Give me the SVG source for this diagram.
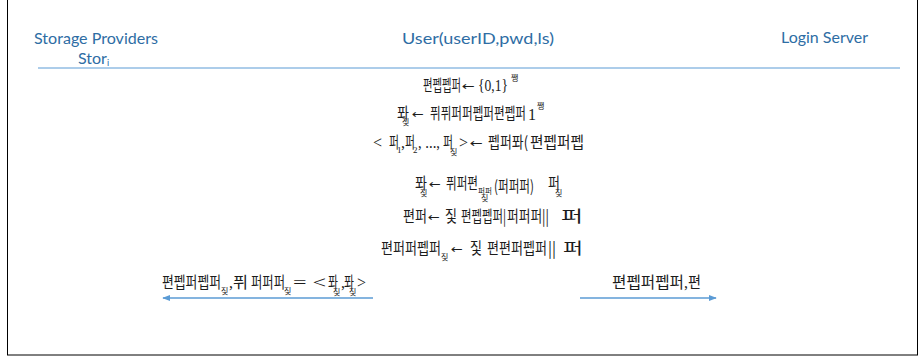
<svg xmlns="http://www.w3.org/2000/svg" width="920" height="358" viewBox="0 0 920 358">
<style>
.h{font-family:Lato,"Open Sans","Liberation Sans",sans-serif;font-size:16px;fill:#2E6DA4}
.g{font-family:"Noto Sans CJK KR","Noto Sans CJK SC",sans-serif;font-size:16px;fill:#1c1c1c}
.gs{font-family:"Noto Sans CJK KR","Noto Sans CJK SC",sans-serif;font-size:8px;fill:#1c1c1c}
.m{font-family:"Liberation Serif","DejaVu Serif",serif;font-size:16px;fill:#1c1c1c}
.ms{font-family:"Liberation Serif","DejaVu Serif",serif;font-size:9px;fill:#1c1c1c}
.a{font-family:"DejaVu Sans",sans-serif;font-size:12px;fill:#1c1c1c}
.conn{stroke:#5B9BD5;stroke-width:1.3;fill:none}
</style>
<defs>
<marker id="ah" viewBox="0 0 10 10" refX="9" refY="5" markerWidth="8" markerHeight="8" markerUnits="userSpaceOnUse" orient="auto">
<path d="M0,1 L10,5 L0,9 Z" fill="#5B9BD5"/>
</marker>
</defs>
<rect x="7.5" y="-2" width="910" height="357" fill="none" stroke="#000" stroke-width="1"/>
<line x1="38" y1="68" x2="900" y2="68" stroke="#5B9BD5" stroke-width="1"/>

<g id="storage-providers">
<text class="h" x="34" y="44" textLength="124" lengthAdjust="spacingAndGlyphs">Storage Providers</text>
<text class="h" x="78" y="64">Stor<tspan font-size="9" dy="2">i</tspan></text>
</g>

<g id="user">
<text class="h" x="478" y="44" text-anchor="middle" textLength="152" lengthAdjust="spacingAndGlyphs">User(userID,pwd,ls)</text>
<!-- line 1 -->
<text class="g" x="423" y="91" textLength="38" lengthAdjust="spacingAndGlyphs">편펩펩퍼</text>
<text class="a" x="462" y="90" textLength="13" lengthAdjust="spacingAndGlyphs">←</text>
<text class="m" x="478" y="91" textLength="30" lengthAdjust="spacingAndGlyphs">{0,1}</text>
<text class="gs" x="511" y="81">쨍</text>
<!-- line 2 -->
<text class="g" x="397" y="119" textLength="12" lengthAdjust="spacingAndGlyphs">퐈</text>
<text class="gs" x="402" y="125">짗</text>
<text class="a" x="412" y="118" textLength="12" lengthAdjust="spacingAndGlyphs">←</text>
<text class="g" x="430" y="119" textLength="96" lengthAdjust="spacingAndGlyphs">퓌퓌퍼퍼펩퍼편펩퍼</text>
<text class="m" x="528" y="120">1</text>
<text class="gs" x="537" y="109">쨍</text>
<!-- line 3 -->
<text class="m" x="373" y="148">&lt;</text>
<text class="g" x="389" y="148" textLength="10" lengthAdjust="spacingAndGlyphs">퍼</text>
<text class="ms" x="397" y="153">1</text>
<text class="m" x="401" y="148">,</text>
<text class="g" x="405" y="148" textLength="10" lengthAdjust="spacingAndGlyphs">퍼</text>
<text class="ms" x="413" y="153">2</text>
<text class="m" x="418" y="148" textLength="22" lengthAdjust="spacingAndGlyphs">, ..., </text>
<text class="g" x="443" y="148" textLength="10" lengthAdjust="spacingAndGlyphs">퍼</text>
<text class="gs" x="450" y="155">짗</text>
<text class="m" x="459" y="148">&gt;</text>
<text class="a" x="470" y="147" textLength="13" lengthAdjust="spacingAndGlyphs">←</text>
<text class="g" x="488" y="148" textLength="40" lengthAdjust="spacingAndGlyphs">펩퍼퐈(</text>
<text class="g" x="530" y="148" textLength="54" lengthAdjust="spacingAndGlyphs">편펩퍼펩</text>
<!-- line 4 -->
<text class="g" x="415" y="189" textLength="12" lengthAdjust="spacingAndGlyphs">퐈</text>
<text class="gs" x="420" y="196">짗</text>
<text class="a" x="429" y="188" textLength="12" lengthAdjust="spacingAndGlyphs">←</text>
<text class="g" x="446" y="189" textLength="32" lengthAdjust="spacingAndGlyphs">퓌퍼편</text>
<text class="gs" x="478" y="194" textLength="14" lengthAdjust="spacingAndGlyphs">퍼퍼</text>
<text class="gs" x="481" y="201">짗</text>
<text class="g" x="494" y="192" font-size="12" textLength="40" lengthAdjust="spacingAndGlyphs">(퍼퍼퍼)</text>
<text class="g" x="548" y="189" textLength="12" lengthAdjust="spacingAndGlyphs">퍼</text>
<text class="gs" x="555" y="196">짗</text>
<!-- line 5 -->
<text class="g" x="403" y="222" textLength="24" lengthAdjust="spacingAndGlyphs">편퍼</text>
<text class="a" x="428" y="221" textLength="12" lengthAdjust="spacingAndGlyphs">←</text>
<text class="g" x="445" y="222" textLength="12" lengthAdjust="spacingAndGlyphs">짗</text>
<text class="g" x="461" y="222" textLength="45" lengthAdjust="spacingAndGlyphs">편펩펩퍼|</text>
<text class="g" x="507" y="222" textLength="42" lengthAdjust="spacingAndGlyphs">퍼퍼퍼||</text>
<text class="g" x="561" y="222" textLength="22" lengthAdjust="spacingAndGlyphs">퍼</text>
<!-- line 6 -->
<text class="g" x="381" y="254" textLength="60" lengthAdjust="spacingAndGlyphs">편퍼퍼펩퍼</text>
<text class="gs" x="441" y="260">짗</text>
<text class="a" x="451" y="253" textLength="12" lengthAdjust="spacingAndGlyphs">←</text>
<text class="g" x="470" y="254" textLength="12" lengthAdjust="spacingAndGlyphs">짗</text>
<text class="g" x="487" y="254" textLength="60" lengthAdjust="spacingAndGlyphs">편편퍼펩퍼</text>
<text class="g" x="548" y="254" textLength="8" lengthAdjust="spacingAndGlyphs">||</text>
<text class="g" x="563" y="254" textLength="20" lengthAdjust="spacingAndGlyphs">퍼</text>
</g>

<g id="login-server">
<text class="h" x="781" y="43" textLength="87" lengthAdjust="spacingAndGlyphs">Login Server</text>
</g>

<g id="connectors">
<line class="conn" x1="373" y1="298" x2="163" y2="298" marker-end="url(#ah)"/>
<line class="conn" x1="580" y1="298" x2="716" y2="298" marker-end="url(#ah)"/>
<g id="label-to-storage">
<text class="g" x="162" y="288" textLength="59" lengthAdjust="spacingAndGlyphs">편펩퍼펩퍼</text>
<text class="gs" x="221" y="294">짗</text>
<text class="m" x="229" y="288">,</text>
<text class="g" x="233" y="288" textLength="15" lengthAdjust="spacingAndGlyphs">퓌</text>
<text class="g" x="251" y="288" textLength="34" lengthAdjust="spacingAndGlyphs">퍼퍼퍼</text>
<text class="gs" x="284" y="294">짗</text>
<text class="m" x="293" y="288" textLength="33" lengthAdjust="spacingAndGlyphs">= &lt; </text>
<text class="g" x="328" y="288" textLength="10" lengthAdjust="spacingAndGlyphs">퐈</text>
<text class="gs" x="333" y="295">짗</text>
<text class="m" x="341" y="288">,</text>
<text class="g" x="344" y="288" textLength="10" lengthAdjust="spacingAndGlyphs">퐈</text>
<text class="gs" x="349" y="295">짗</text>
<text class="m" x="357" y="288">&gt;</text>
</g>
<g id="label-to-login">
<text class="g" x="612" y="288" textLength="72" lengthAdjust="spacingAndGlyphs">편펩퍼펩퍼</text>
<text class="m" x="684" y="288">,</text>
<text class="g" x="688" y="288" textLength="13" lengthAdjust="spacingAndGlyphs">편</text>
</g>
</g>
</svg>
